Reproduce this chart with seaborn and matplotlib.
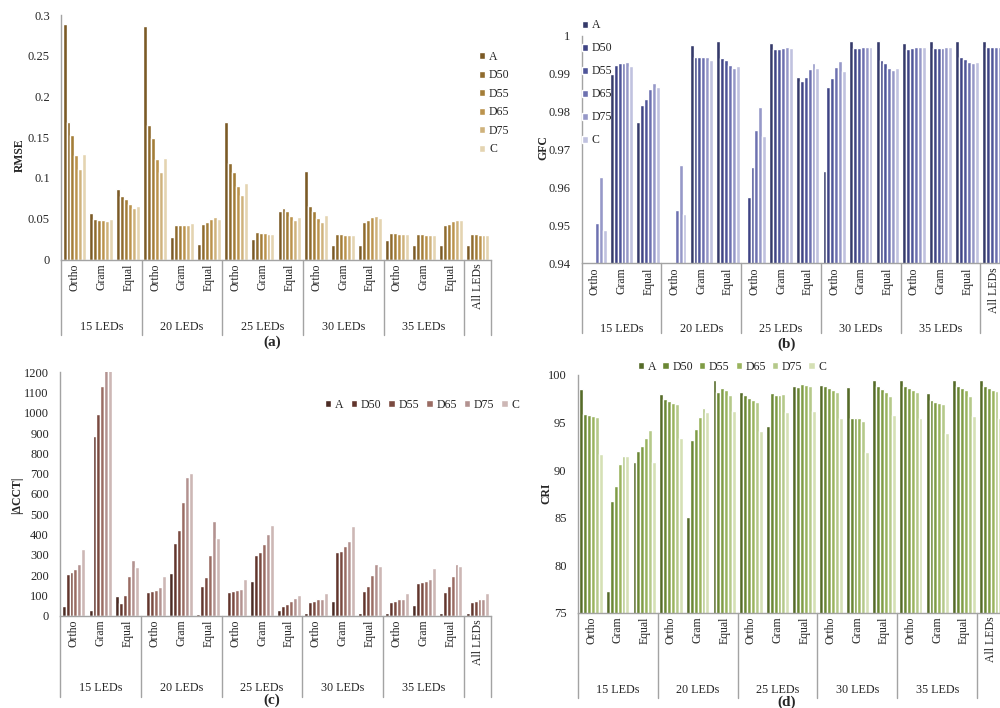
import numpy as np
import pandas as pd
import matplotlib
matplotlib.use("Agg")
import matplotlib.pyplot as plt
import seaborn as sns
from matplotlib.transforms import blended_transform_factory

sns.set_theme(style="white")
plt.rcParams['font.family'] = ['Liberation Serif', 'DejaVu Serif']

groups = ["15 LEDs", "20 LEDs", "25 LEDs", "30 LEDs", "35 LEDs"]
methods = ["Ortho", "Gram", "Equal"]
categories = [f"{g} {m}" for g in groups for m in methods] + ["All LEDs"]
tick_labels = methods * 5 + ["All LEDs"]
illuminants = ["A", "D50", "D55", "D65", "D75", "C"]

# rows = illuminants (A, D50, D55, D65, D75, C); columns = 16 categories
rmse_values = [
    [0.289, 0.057, 0.086, 0.286, 0.027, 0.019, 0.169, 0.025, 0.059, 0.108, 0.018, 0.018, 0.0245, 0.018, 0.018, 0.018],
    [0.169, 0.0495, 0.078, 0.165, 0.042, 0.043, 0.119, 0.0335, 0.0626, 0.066, 0.031, 0.046, 0.033, 0.031, 0.042, 0.031],
    [0.153, 0.0487, 0.074, 0.149, 0.0425, 0.046, 0.107, 0.033, 0.059, 0.059, 0.031, 0.048, 0.032, 0.031, 0.044, 0.031],
    [0.128, 0.048, 0.0675, 0.1235, 0.0425, 0.050, 0.090, 0.032, 0.053, 0.051, 0.030, 0.052, 0.0315, 0.030, 0.047, 0.030],
    [0.111, 0.047, 0.063, 0.107, 0.042, 0.052, 0.079, 0.031, 0.048, 0.0466, 0.0295, 0.0536, 0.031, 0.0295, 0.0487, 0.0295],
    [0.130, 0.050, 0.066, 0.124, 0.045, 0.050, 0.094, 0.0315, 0.052, 0.055, 0.030, 0.0515, 0.031, 0.0295, 0.048, 0.0295],
]
gfc_values = [
    [0.930, 0.9899, 0.9773, 0.930, 0.9975, 0.9987, 0.935, 0.9980, 0.9892, 0.9644, 0.9987, 0.9987, 0.9980, 0.9987, 0.9987, 0.9987],
    [0.935, 0.9924, 0.9816, 0.935, 0.9945, 0.9941, 0.9574, 0.9964, 0.9880, 0.9866, 0.9968, 0.9935, 0.9966, 0.9968, 0.9945, 0.9969],
    [0.938, 0.9927, 0.9834, 0.938, 0.9944, 0.9935, 0.9655, 0.9964, 0.9892, 0.9889, 0.9968, 0.9927, 0.9967, 0.9968, 0.9939, 0.9969],
    [0.9506, 0.9929, 0.9860, 0.9540, 0.9944, 0.9924, 0.9751, 0.9967, 0.9913, 0.9917, 0.9969, 0.9916, 0.9969, 0.9968, 0.9931, 0.9970],
    [0.9628, 0.9931, 0.9874, 0.9658, 0.9944, 0.9916, 0.9811, 0.9969, 0.9927, 0.9932, 0.9971, 0.9910, 0.9970, 0.9971, 0.9927, 0.9970],
    [0.9489, 0.9919, 0.9864, 0.9530, 0.9937, 0.9921, 0.9736, 0.9968, 0.9914, 0.9906, 0.9971, 0.9915, 0.9969, 0.9970, 0.9930, 0.9970],
]
cct_values = [
    [49, 30, 99, 5, 210, 10, 3, 173, 28, 15, 72, 12, 12, 51, 13, 13],
    [207, 888, 61, 118, 357, 146, 118, 301, 48, 67, 312, 120, 67, 161, 118, 66],
    [214, 993, 104, 122, 421, 189, 123, 316, 59, 72, 321, 148, 71, 168, 146, 71],
    [230, 1134, 194, 128, 559, 298, 127, 353, 72, 82, 342, 200, 81, 171, 194, 82],
    [255, 1210, 275, 141, 686, 465, 131, 403, 85, 82, 370, 255, 81, 181, 255, 84],
    [327, 1250, 240, 196, 702, 383, 181, 447, 102, 110, 444, 247, 110, 233, 247, 110],
]
cri_values = [
    [98.5, 77.3, 90.8, 98.0, 85.1, 99.5, 98.2, 94.6, 98.8, 99.0, 98.7, 99.5, 99.5, 98.1, 99.5, 99.5],
    [95.9, 86.7, 92.0, 97.5, 93.2, 98.2, 97.9, 98.1, 98.7, 98.8, 95.5, 98.8, 98.8, 97.4, 98.8, 98.8],
    [95.8, 88.3, 92.5, 97.3, 94.3, 98.6, 97.6, 97.9, 99.1, 98.6, 95.5, 98.5, 98.6, 97.2, 98.6, 98.6],
    [95.7, 90.6, 93.4, 97.1, 95.6, 98.4, 97.4, 97.9, 98.9, 98.4, 95.5, 98.2, 98.4, 97.1, 98.4, 98.4],
    [95.6, 91.5, 94.2, 96.9, 96.5, 97.9, 97.2, 97.96, 98.8, 98.2, 95.2, 97.8, 98.2, 97.0, 97.8, 98.3],
    [91.7, 91.5, 90.8, 93.4, 96.1, 96.2, 94.1, 96.1, 96.2, 95.5, 91.9, 95.8, 95.5, 93.9, 95.7, 95.5],
]

pal_a = ["#7b5a26", "#8f6b2d", "#a37d38", "#bb934d", "#cfb27c", "#e4d4b1"]
pal_b = ["#353a6a", "#3f4485", "#4f5599", "#6d71b0", "#9698c8", "#c0c2df"]
pal_c = ["#4b2b24", "#62352c", "#7a4a40", "#9a6c63", "#b39290", "#cdb7b5"]
pal_d = ["#556b28", "#6a8734", "#7f9c45", "#9ab45e", "#b5c98a", "#d5e0b5"]

GRAY = "#a3a3a3"
FS = 8.5
YFS = 9

fig = plt.figure(figsize=(10, 7.08), dpi=100)
W, H = 1000.0, 708.0


def long_df(values):
    rows = []
    for ill, vals in zip(illuminants, values):
        for cat, v in zip(categories, vals):
            rows.append((cat, ill, v))
    return pd.DataFrame(rows, columns=["cat", "illum", "value"])


def panel(px_left, px_right, px_top, px_bottom, values, palette, ylim, yticks,
          yticklabels, group_y, sep_y):
    rect = [px_left / W, 1 - px_bottom / H, (px_right - px_left) / W,
            (px_bottom - px_top) / H]
    ax = fig.add_axes(rect)
    sns.barplot(data=long_df(values), x="cat", y="value", hue="illum",
                order=categories, hue_order=illuminants, palette=palette,
                width=0.88, saturation=1, errorbar=None, ax=ax)
    handles, labels = ax.get_legend_handles_labels()
    if ax.get_legend() is not None:
        ax.get_legend().remove()
    ax.set_xlim(-0.5, 15.5)
    ax.set_ylim(*ylim)
    ax.set_yticks(yticks)
    ax.set_yticklabels(yticklabels, fontsize=YFS)
    ax.set_xticks(range(len(categories)))
    ax.set_xticklabels(tick_labels, rotation=90, fontsize=FS)
    ax.tick_params(axis="both", length=0)
    ax.tick_params(axis="y", pad=8)
    ax.tick_params(axis="x", pad=3)
    ax.set_xlabel("")
    ax.set_ylabel("")
    for s in ["top", "right"]:
        ax.spines[s].set_visible(False)
    for s in ["left", "bottom"]:
        ax.spines[s].set_color(GRAY)
        ax.spines[s].set_linewidth(1)
    trans = blended_transform_factory(ax.transData, ax.transAxes)
    for b in [-0.5, 2.5, 5.5, 8.5, 11.5, 14.5, 15.5]:
        ax.plot([b, b], [0, sep_y], transform=trans, clip_on=False,
                color=GRAY, lw=1)
    for i, g in enumerate(groups):
        ax.text(3 * i + 1, group_y, g, transform=trans, ha="center",
                va="center", fontsize=8.7)
    return ax, handles, labels


def leg(handles, labels, x, y, ncol, labelspacing=0.5, loc="upper left",
        columnspacing=0.6):
    fig.legend(handles, labels, loc=loc, bbox_to_anchor=(x / W, 1 - y / H),
               frameon=False, ncol=ncol, fontsize=FS, handlelength=0.55,
               handleheight=0.55, handletextpad=0.3, labelspacing=labelspacing,
               columnspacing=columnspacing, borderpad=0, borderaxespad=0)


# (a) RMSE
ax_a, h, l = panel(61, 491, 15, 259.5, rmse_values, pal_a, (0, 0.3),
                   [0, 0.05, 0.1, 0.15, 0.2, 0.25, 0.3],
                   ["0", "0.05", "0.1", "0.15", "0.2", "0.25", "0.3"],
                   -0.276, -0.31)
leg(h, l, 479, 51, 1, labelspacing=0.55)
fig.text(20 / W, 1 - 155 / H, "RMSE", rotation=90, ha="center", va="center",
         fontsize=FS, fontweight="bold")
fig.text(272 / W, 1 - 342 / H, "(a)", ha="center", va="center", fontsize=11,
         fontweight="bold")

# (b) GFC
ax_b, h, l = panel(581.7, 1007, 35.7, 263.3, gfc_values, pal_b, (0.94, 1.0),
                   [0.94, 0.95, 0.96, 0.97, 0.98, 0.99, 1.0],
                   ["0.94", "0.95", "0.96", "0.97", "0.98", "0.99", "1"],
                   -0.29, -0.307)
leg(h, l, 581.5, 19.5, 1, labelspacing=0.93)
fig.text(543 / W, 1 - 148 / H, "GFC", rotation=90, ha="center", va="center",
         fontsize=FS, fontweight="bold")
fig.text(787 / W, 1 - 344 / H, "(b)", ha="center", va="center", fontsize=11,
         fontweight="bold")

# (c) |ΔCCT|
ax_c, h, l = panel(60, 491, 372.3, 615.7, cct_values, pal_c, (0, 1200),
                   list(range(0, 1201, 100)),
                   [str(v) for v in range(0, 1201, 100)],
                   -0.296, -0.334)
leg(h, l, 325, 405, 6, loc="center left", columnspacing=0.6)
fig.text(17 / W, 1 - 495 / H, "|ΔCCT|", rotation=90, ha="center",
         va="center", fontsize=FS, fontweight="bold")
fig.text(272 / W, 1 - 700 / H, "(c)", ha="center", va="center", fontsize=11,
         fontweight="bold")

# (d) CRI
ax_d, h, l = panel(577.7, 1004, 375, 612.7, cri_values, pal_d, (75, 100),
                   [75, 80, 85, 90, 95, 100],
                   ["75", "80", "85", "90", "95", "100"],
                   -0.324, -0.36)
leg(h, l, 638, 366.7, 6, loc="center left", columnspacing=0.5)
fig.text(546 / W, 1 - 493 / H, "CRI", rotation=90, ha="center", va="center",
         fontsize=FS, fontweight="bold")
fig.text(787 / W, 1 - 702 / H, "(d)", ha="center", va="center", fontsize=11,
         fontweight="bold")

fig.savefig("out.png", dpi=100)
